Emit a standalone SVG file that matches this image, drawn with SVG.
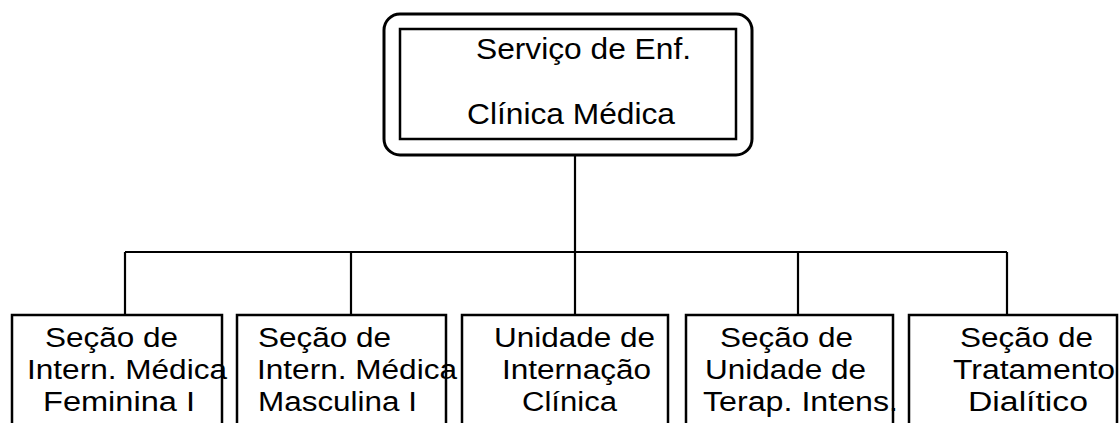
<svg xmlns="http://www.w3.org/2000/svg" width="1120" height="423" viewBox="0 0 1120 423">
<style>
.box{fill:none;stroke:#000;stroke-width:2.5}
.outer{fill:none;stroke:#000;stroke-width:3}
.con{fill:none;stroke:#000;stroke-width:2.2}
.t{font-family:"Liberation Sans",Arial,sans-serif;fill:#000}
.top{font-size:29px}
.bot{font-size:27px}
</style>
<rect width="1120" height="423" fill="#fff"/>
<g id="connectors">
<line class="con" x1="575" y1="155" x2="575" y2="315"/>
<line class="con" x1="125" y1="252" x2="1007" y2="252"/>
<line class="con" x1="125" y1="252" x2="125" y2="315"/>
<line class="con" x1="351" y1="252" x2="351" y2="315"/>
<line class="con" x1="798" y1="252" x2="798" y2="315"/>
<line class="con" x1="1007" y1="252" x2="1007" y2="315"/>
</g>
<g id="servico">
<rect class="outer" x="384" y="14" width="368" height="141" rx="16"/>
<rect class="box" x="400" y="29" width="336" height="110"/>
<text class="t top" x="476" y="59" textLength="215" lengthAdjust="spacingAndGlyphs">Serviço de Enf.</text>
<text class="t top" x="467" y="124" textLength="208" lengthAdjust="spacingAndGlyphs">Clínica Médica</text>
</g>
<g id="feminina">
<rect class="box" x="12" y="315" width="210" height="130"/>
<text class="t bot" x="45" y="347" textLength="133" lengthAdjust="spacingAndGlyphs">Seção de</text>
<text class="t bot" x="27" y="379" textLength="200" lengthAdjust="spacingAndGlyphs">Intern. Médica</text>
<text class="t bot" x="43" y="411" textLength="152" lengthAdjust="spacingAndGlyphs">Feminina I</text>
</g>
<g id="masculina">
<rect class="box" x="237" y="315" width="209" height="130"/>
<text class="t bot" x="258" y="347" textLength="133" lengthAdjust="spacingAndGlyphs">Seção de</text>
<text class="t bot" x="257" y="379" textLength="200" lengthAdjust="spacingAndGlyphs">Intern. Médica</text>
<text class="t bot" x="258" y="411" textLength="159" lengthAdjust="spacingAndGlyphs">Masculina I</text>
</g>
<g id="internacao">
<rect class="box" x="462" y="315" width="206" height="130"/>
<text class="t bot" x="494" y="347" textLength="161" lengthAdjust="spacingAndGlyphs">Unidade de</text>
<text class="t bot" x="502" y="379" textLength="149" lengthAdjust="spacingAndGlyphs">Internação</text>
<text class="t bot" x="522" y="411" textLength="95" lengthAdjust="spacingAndGlyphs">Clínica</text>
</g>
<g id="uti">
<rect class="box" x="686" y="315" width="207" height="130"/>
<text class="t bot" x="720" y="347" textLength="133" lengthAdjust="spacingAndGlyphs">Seção de</text>
<text class="t bot" x="705" y="379" textLength="161" lengthAdjust="spacingAndGlyphs">Unidade de</text>
<text class="t bot" x="703" y="411" textLength="195" lengthAdjust="spacingAndGlyphs">Terap. Intens.</text>
</g>
<g id="dialitico">
<rect class="box" x="909" y="315" width="208" height="130"/>
<text class="t bot" x="960" y="347" textLength="133" lengthAdjust="spacingAndGlyphs">Seção de</text>
<text class="t bot" x="953" y="379" textLength="162" lengthAdjust="spacingAndGlyphs">Tratamento</text>
<text class="t bot" x="968" y="411" textLength="120" lengthAdjust="spacingAndGlyphs">Dialítico</text>
</g>
</svg>
